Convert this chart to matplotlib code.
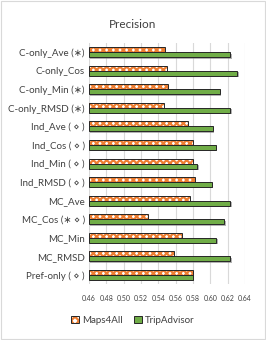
import matplotlib
matplotlib.use("Agg")
import matplotlib.pyplot as plt
import matplotlib.patheffects as pe
from matplotlib.patches import Patch
import numpy as np

# values
methods = ["C-only_Ave (∗)", "C-only_Cos", "C-only_Min (∗)", "C-only_RMSD (∗)",
           "Ind_Ave ( ⋄ )", "Ind_Cos ( ⋄ )", "Ind_Min ( ⋄ )", "Ind_RMSD ( ⋄ )",
           "MC_Ave", "MC_Cos (∗ ⋄ )", "MC_Min", "MC_RMSD", "Pref-only ( ⋄ )"]
maps4all = [0.548, 0.550, 0.551, 0.546, 0.574, 0.580, 0.580, 0.582,
            0.576, 0.528, 0.567, 0.558, 0.580]
tripadvisor = [0.623, 0.631, 0.611, 0.623, 0.603, 0.606, 0.585, 0.602,
               0.623, 0.616, 0.607, 0.623, 0.580]
xticks = [0.46, 0.48, 0.50, 0.52, 0.54, 0.56, 0.58, 0.60, 0.62, 0.64]

plt.rcParams['font.family'] = ['Lato', 'DejaVu Sans']
plt.rcParams['hatch.linewidth'] = 1.6

fig = plt.figure(figsize=(2.66, 3.40), dpi=100)
ax = fig.add_axes([0.3346, 0.1647, 0.921 - 0.3346, 0.8735 - 0.1647])

y = np.arange(len(methods))
h = 0.27
orange = '#ED7D31'
green = '#70AD47'
edge = '#262626'
shadow = [pe.SimplePatchShadow(offset=(1, -1), shadow_rgbFace='#808080', alpha=0.6), pe.Normal()]

# hatched fill for Maps4All, then outline on top
ax.barh(y - h / 2, np.array(maps4all) - 0.46, left=0.46, height=h, color='white',
        edgecolor=orange, hatch='xxxxx', linewidth=0, zorder=3)
ax.barh(y - h / 2, np.array(maps4all) - 0.46, left=0.46, height=h, fill=False,
        edgecolor=edge, linewidth=0.7, zorder=4)
bars = ax.barh(y + h / 2, np.array(tripadvisor) - 0.46, left=0.46, height=h, color=green,
               edgecolor=edge, linewidth=0.7, zorder=3)
for b in bars:
    b.set_path_effects(shadow)

ax.set_xlim(0.46, 0.64)
ax.set_ylim(len(methods) - 0.5, -0.5)
ax.set_xticks(xticks)
ax.set_xticklabels([f"{v:.2f}" for v in xticks], fontsize=5, color='#404040')
ax.set_yticks(y)
ax.set_yticklabels(methods, fontsize=7, color='#404040')
ax.tick_params(length=0, pad=3)
ax.tick_params(axis='x', pad=8)
ax.grid(axis='x', color='#d9d9d9', linewidth=0.8, zorder=0)
for s in ax.spines.values():
    s.set_visible(False)

fig.suptitle("Precision", y=0.945, fontsize=8.5, color='#404040')

# legend: hatched square with an outline drawn over it
m_fill = Patch(facecolor='white', edgecolor=orange, hatch='xxxx', linewidth=0)
m_edge = Patch(fill=False, edgecolor=edge, linewidth=0.7)
t_patch = Patch(facecolor=green, edgecolor=edge, linewidth=0.7)
fig.legend([(m_fill, m_edge), t_patch], ["Maps4All", "TripAdvisor"], loc='center',
           bbox_to_anchor=(0.5, 0.058), ncol=2, frameon=False, fontsize=7,
           handlelength=0.8, handleheight=0.8, handletextpad=0.3, columnspacing=1.2,
           labelcolor='#404040')

# chart border
fig.patches.append(plt.Rectangle((0.002, 0.002), 0.996, 0.996, transform=fig.transFigure,
                                 fill=False, edgecolor='#d9d9d9', linewidth=0.8))

fig.savefig("out.png", dpi=100)
